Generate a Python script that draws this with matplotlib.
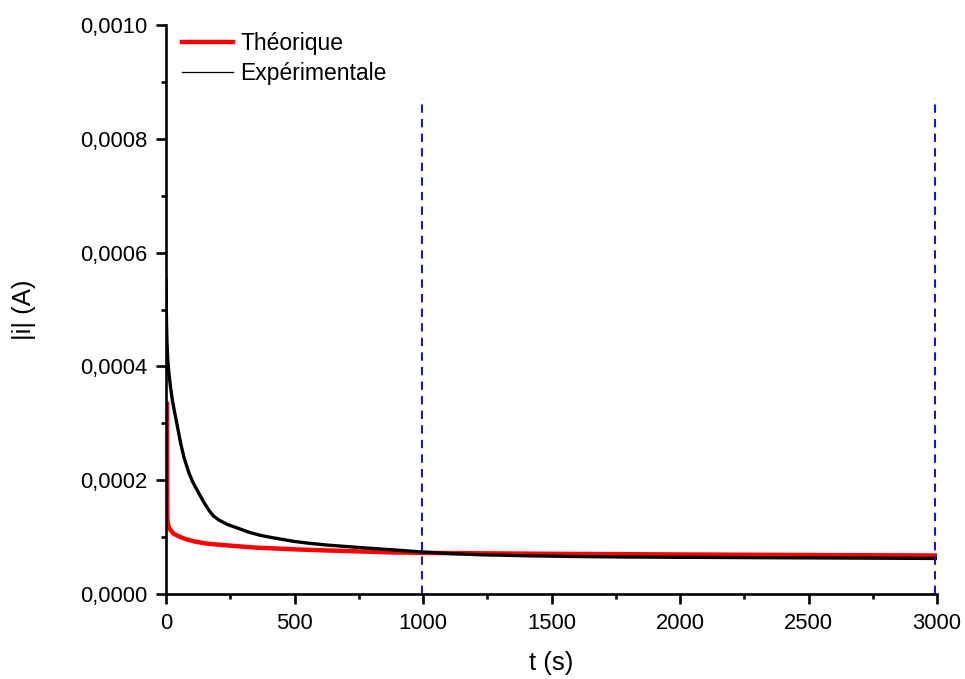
import numpy as np
import matplotlib
matplotlib.use('Agg')
import matplotlib.pyplot as plt
from matplotlib.ticker import FuncFormatter, MultipleLocator
from matplotlib.lines import Line2D

plt.rcParams['font.family'] = ['Liberation Sans', 'DejaVu Sans']

# values
t_exp = [0, 1, 2, 4, 7, 12, 18, 25, 32, 38, 45, 57, 70, 89, 105, 128, 145,
         167, 185, 206, 240, 284, 320, 368, 414, 497, 560, 627, 690, 757,
         820, 886, 997, 1100, 1224, 1400, 1612, 1800, 2000, 2250, 2500,
         2750, 3000]
i_exp = [0.000552, 0.000510, 0.000475, 0.000440, 0.000410, 0.000385,
         0.000362, 0.000340, 0.000323, 0.000309, 0.000293, 0.000265,
         0.000240, 0.000213, 0.000196, 0.000177, 0.000163, 0.000147,
         0.000137, 0.000130, 0.000122, 0.000115, 0.000109, 0.000103,
         0.0000990, 0.0000925, 0.0000890, 0.0000860, 0.0000838, 0.0000815,
         0.0000795, 0.0000775, 0.0000738, 0.0000712, 0.0000690, 0.0000672,
         0.0000658, 0.0000650, 0.0000645, 0.0000640, 0.0000635, 0.0000630,
         0.0000625]

t_th = [4, 4.3, 4.6, 5, 6, 8, 12, 18, 30, 51, 80, 115, 160, 219, 350, 500,
        627, 886, 1000, 1500, 2000, 2500, 3000]
i_th = [0.000338, 0.000230, 0.000170, 0.000136, 0.000128, 0.000122,
        0.000117, 0.000112, 0.000106, 0.000101, 0.0000960, 0.0000919,
        0.0000885, 0.0000861, 0.0000815, 0.0000785, 0.0000765, 0.0000730,
        0.0000722, 0.0000706, 0.0000695, 0.0000685, 0.0000677]

t_marks = [995, 2992]
mark_top = 0.000872

fig = plt.figure(figsize=(9.65, 6.79), dpi=100)
ax = fig.add_axes([166/965, 1 - 594/679, (937 - 166)/965, (594 - 25)/679])

ax.plot(t_th, i_th, color='#ff0000', lw=3.2, solid_capstyle='butt')
ax.plot(t_exp, i_exp, color='black', lw=2.4, solid_joinstyle='round')
ax.vlines(t_marks, 0, mark_top, colors='#1a1ab4', lw=1.5,
          linestyles=[(0, (4, 3))])

ax.set_xlim(0, 3000)
ax.set_ylim(0, 0.001)

for s in ['top', 'right']:
    ax.spines[s].set_visible(False)
for s in ['left', 'bottom']:
    ax.spines[s].set_linewidth(1.9)

ax.xaxis.set_major_locator(MultipleLocator(500))
ax.xaxis.set_minor_locator(MultipleLocator(250))
ax.yaxis.set_major_locator(MultipleLocator(0.0002))
ax.yaxis.set_minor_locator(MultipleLocator(0.0001))
ax.yaxis.set_major_formatter(FuncFormatter(lambda v, p: f'{v:.4f}'.replace('.', ',')))
ax.xaxis.set_major_formatter(FuncFormatter(lambda v, p: f'{v:.0f}'))

ax.tick_params(which='major', direction='out', length=7.5, width=1.9,
               labelsize=15.8, pad=6)
ax.tick_params(which='minor', direction='out', length=3.8, width=1.9)

ax.set_xlabel('t (s)', fontsize=18.5)
ax.set_ylabel('|i| (A)', fontsize=18.5)
ax.xaxis.set_label_coords(0.5, -0.1)
ax.yaxis.set_label_coords(-0.168, 0.5)

handles = [Line2D([], [], color='#ff0000', lw=3.2),
           Line2D([], [], color='black', lw=0.9)]
ax.legend(handles, ['Théorique', 'Expérimentale'], loc='upper left',
          bbox_to_anchor=(0.021, 0.988), frameon=False, fontsize=16.5,
          borderpad=0, borderaxespad=0, handlelength=2.2,
          handletextpad=0.33, labelspacing=0.3)

fig.savefig('out.png', dpi=100)
